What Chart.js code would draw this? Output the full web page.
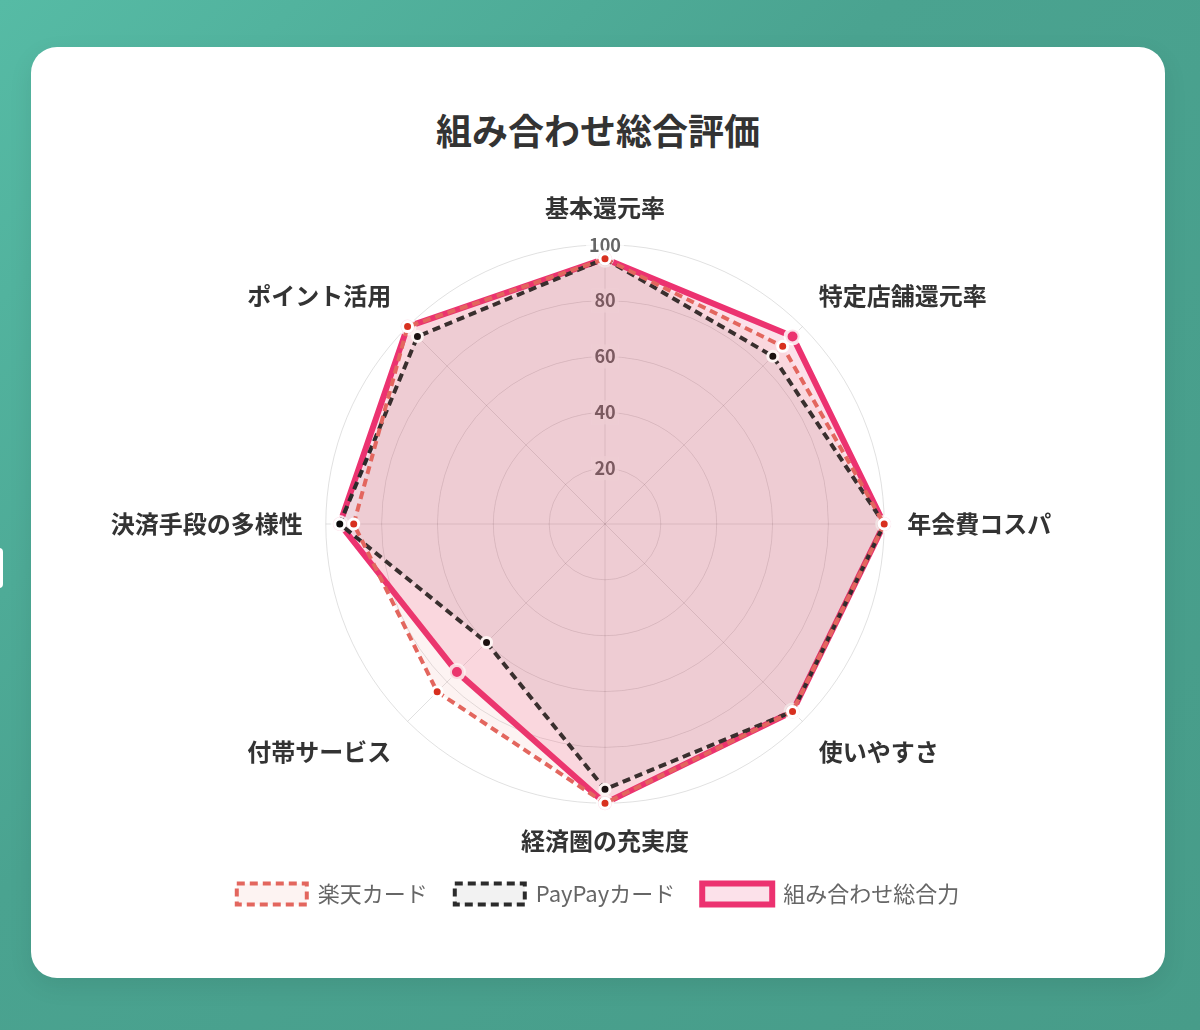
<!DOCTYPE html>
<html lang="ja">
<head>
<meta charset="utf-8">
<title>組み合わせ総合評価</title>
<script src="https://cdn.jsdelivr.net/npm/chart.js@4.4.1/dist/chart.umd.min.js"></script>
<style>
    html, body {
        margin: 0;
        padding: 0;
        width: 1200px;
        height: 1030px;
        overflow: hidden;
        background: linear-gradient(135deg, #56bba5 0%, #4aa390 40%, #479c89 100%);
        font-family: "Noto Sans CJK JP", "Noto Sans", sans-serif;
    }
    .card {
        position: absolute;
        left: 31px;
        top: 47px;
        width: 1134px;
        height: 931px;
        background: #fff;
        border-radius: 26px;
        box-shadow: 0 8px 24px rgba(0, 0, 0, 0.08);
    }
    .card h2 {
        position: absolute;
        left: 0;
        right: 0;
        top: 83px;
        margin: 0;
        transform: translateY(-50%);
        text-align: center;
        font-size: 36px;
        font-weight: bold;
        line-height: 1.2;
        color: #333;
    }
    .card canvas {
        position: absolute;
        left: 0;
        top: 0;
    }
    .side-tab {
        position: absolute;
        left: -10px;
        top: 548px;
        width: 13px;
        height: 40px;
        background: #fff;
        border-radius: 4px;
    }
</style>
</head>
<body>
<div class="side-tab"></div>
<div class="card">
    <h2>組み合わせ総合評価</h2>
    <canvas id="chart" width="1134" height="931"></canvas>
</div>

<script>
// 評価項目
var categories = ['基本還元率', '特定店舗還元率', '年会費コスパ', '使いやすさ', '経済圏の充実度', '付帯サービス', '決済手段の多様性', 'ポイント活用'];

// 各カードの評価 (0-100)
var rakutenScores = [95, 90, 100, 95, 100, 85, 90, 100];
var paypayScores  = [95, 85, 100, 95, 95, 60, 95, 95];
var comboScores   = [95, 95, 100, 95, 100, 75, 95, 100];

var seriesNames = ['楽天カード', 'PayPayカード', '組み合わせ総合力'];
var tickValues = [20, 40, 60, 80, 100];

var jpFont = '"Noto Sans CJK JP", "Noto Sans", sans-serif';

// the radar sits a bit right of centre, the legend stays centred on the card
var centerLegend = {
    id: 'centerLegend',
    afterLayout: function(c) {
        c.legend.left -= 7;
        c.legend.right -= 7;
    }
};

var ctx = document.getElementById('chart').getContext('2d');
var chart = new Chart(ctx, {
    type: 'radar',
    data: {
        labels: categories,
        datasets: [{
            label: seriesNames[0],
            data: rakutenScores,
            borderColor: '#e3665e',
            backgroundColor: 'rgba(229, 103, 95, 0.08)',
            borderWidth: 4,
            borderDash: [8, 5],
            pointBackgroundColor: '#d8301f',
            pointBorderColor: '#fff',
            pointBorderWidth: 3,
            pointRadius: 5,
            fill: true
        }, {
            label: seriesNames[1],
            data: paypayScores,
            borderColor: '#2b2b2b',
            backgroundColor: 'rgba(0, 0, 0, 0.05)',
            borderWidth: 4,
            borderDash: [8, 5],
            pointBackgroundColor: '#0a0a0a',
            pointBorderColor: '#fff',
            pointBorderWidth: 3,
            pointRadius: 5,
            fill: true
        }, {
            label: seriesNames[2],
            data: comboScores,
            borderColor: '#ec3270',
            backgroundColor: 'rgba(236, 52, 114, 0.15)',
            borderWidth: 6,
            pointBackgroundColor: '#ec3270',
            pointBorderColor: 'rgba(255, 255, 255, 0.85)',
            pointBorderWidth: 4,
            pointRadius: 7,
            fill: true
        }]
    },
    options: {
        responsive: false,
        animation: false,
        layout: {
            padding: { top: 146, bottom: 63, left: 27, right: 13 }
        },
        plugins: {
            legend: {
                position: 'bottom',
                labels: {
                    color: '#666',
                    font: { family: jpFont, size: 22 },
                    boxWidth: 70,
                    boxHeight: 21,
                    padding: 27
                }
            },
            tooltip: { enabled: false }
        },
        scales: {
            r: {
                min: 0,
                max: 100,
                afterBuildTicks: function(scale) {
                    scale.ticks = [0].concat(tickValues).map(function(v) { return { value: v }; });
                },
                ticks: {
                    color: '#666',
                    font: { family: jpFont, size: 18, weight: 'bold' },
                    backdropPadding: 3
                },
                grid: {
                    circular: true,
                    color: 'rgba(0, 0, 0, 0.12)'
                },
                angleLines: {
                    color: 'rgba(0, 0, 0, 0.12)'
                },
                pointLabels: {
                    color: '#333',
                    font: { family: jpFont, size: 24, weight: 'bold' },
                    padding: 11
                }
            }
        }
    },
    plugins: [centerLegend]
});
</script>
</body>
</html>
